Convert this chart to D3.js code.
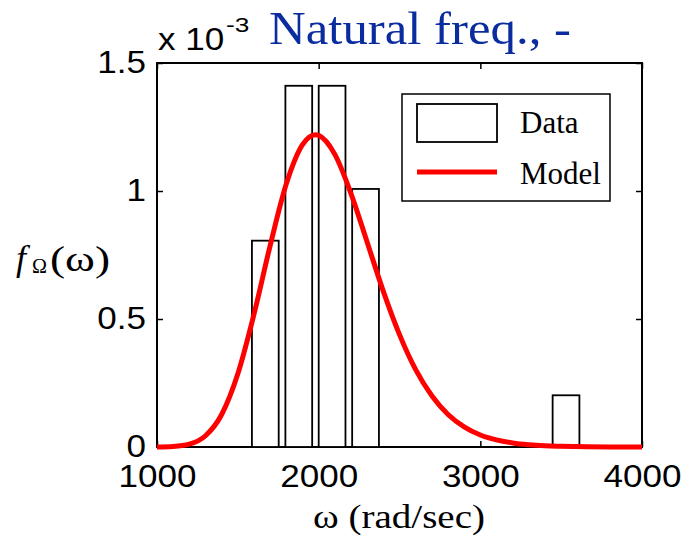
<!DOCTYPE html>
<html>
<head>
<meta charset="utf-8">
<script src="https://cdn.jsdelivr.net/npm/d3@7"></script>
<style>
  html, body { margin: 0; padding: 0; background: #fff; }
  svg { display: block; }
</style>
</head>
<body>
<div id="chart"></div>
<script>
// Histogram of measured natural frequencies (density, x 10^-3)
const binCenters = [1670, 1877, 2083, 2290, 2497, 2703, 2910, 3117, 3323, 3530];
const binDensity = [0.806, 1.411, 1.411, 1.008, 0, 0, 0, 0, 0, 0.202];

// Fitted model curve (x 10^-3)
const modelOmega = [1000, 1100, 1200, 1300, 1400, 1500, 1600, 1700, 1800, 1900, 1980, 2000,
                    2100, 2200, 2300, 2400, 2500, 2600, 2700, 2800, 2900, 3000, 3100, 3200,
                    3300, 3400, 3500, 3600, 3800, 4000];
const modelDensity = [0, 0.002, 0.011, 0.044, 0.127, 0.286, 0.519, 0.787, 1.028, 1.181, 1.220, 1.217,
                      1.143, 0.990, 0.800, 0.608, 0.439, 0.302, 0.200, 0.127, 0.079, 0.047, 0.028, 0.016,
                      0.009, 0.005, 0.003, 0.0015, 0, 0];

const xTicks = [1000, 2000, 3000, 4000];
const yTicks = [0, 0.5, 1, 1.5];

const W = 694, H = 540;
const plot = { left: 157, right: 642, top: 63, bottom: 447 };
const sans = '"Liberation Sans", Arial, Helvetica, sans-serif';
const serif = '"Liberation Serif", "Times New Roman", Times, serif';
const stretch = 1.13; // the source picture is a bit wider than tall

const svg = d3.select('#chart')
    .append('svg')
    .attr('width', W)
    .attr('height', H);

const x = d3.scaleLinear().domain([1000, 4000]).range([plot.left, plot.right]);
const y = d3.scaleLinear().domain([0, 1.5]).range([plot.bottom, plot.top]);

// widen a text horizontally without changing its height
function widen(sel, k) {
    sel.each(function() {
        const w = this.getComputedTextLength();
        d3.select(this)
            .attr('textLength', w * k)
            .attr('lengthAdjust', 'spacingAndGlyphs');
    });
}

// Axes box
svg.append('rect')
    .attr('x', plot.left)
    .attr('y', plot.top)
    .attr('width', plot.right - plot.left)
    .attr('height', plot.bottom - plot.top)
    .attr('fill', 'none')
    .attr('stroke', '#000')
    .attr('stroke-width', 2);

// Tick marks on all four sides, labels bottom and left
function styleAxis(g, showLabels) {
    g.select('.domain').remove();
    g.selectAll('line').attr('stroke', '#000').attr('stroke-width', 1.5);
    if (!showLabels) {
        g.selectAll('text').remove();
        return;
    }
    g.selectAll('text')
        .style('font-family', sans)
        .style('font-size', '31px')
        .attr('fill', '#000')
        .call(widen, stretch);
}

svg.append('g')
    .attr('transform', `translate(0,${plot.bottom})`)
    .call(d3.axisBottom(x).tickValues(xTicks).tickSize(-6).tickPadding(18).tickFormat(d3.format('d')))
    .call(g => styleAxis(g, true));

svg.append('g')
    .attr('transform', `translate(0,${plot.top})`)
    .call(d3.axisTop(x).tickValues(xTicks).tickSize(-6))
    .call(g => styleAxis(g, false));

svg.append('g')
    .attr('transform', `translate(${plot.left},0)`)
    .call(d3.axisLeft(y).tickValues(yTicks).tickSize(-6).tickPadding(11).tickFormat(d => d))
    .call(g => styleAxis(g, true));

svg.append('g')
    .attr('transform', `translate(${plot.right},0)`)
    .call(d3.axisRight(y).tickValues(yTicks).tickSize(-6))
    .call(g => styleAxis(g, false));

// Histogram bars
const binWidth = binCenters[1] - binCenters[0];
const bars = binCenters.map((c, i) => ({ c: c, v: binDensity[i] })).filter(d => d.v > 0);

svg.append('g')
    .selectAll('rect')
    .data(bars)
    .enter()
    .append('rect')
    .attr('x', d => x(d.c - 0.4 * binWidth))
    .attr('width', d => x(d.c + 0.4 * binWidth) - x(d.c - 0.4 * binWidth))
    .attr('y', d => y(d.v))
    .attr('height', d => y(0) - y(d.v))
    .attr('fill', '#fff')
    .attr('stroke', '#000')
    .attr('stroke-width', 1.8);

// Model curve
const model = modelOmega.map((w, i) => ({ w: w, f: modelDensity[i] }));
const line = d3.line()
    .x(d => x(d.w))
    .y(d => y(d.f))
    .curve(d3.curveMonotoneX);

svg.append('path')
    .datum(model)
    .attr('fill', 'none')
    .attr('stroke', '#ff0000')
    .attr('stroke-width', 5)
    .attr('d', line);

// Legend
const legend = svg.append('g');
legend.append('rect')
    .attr('x', 402).attr('y', 94)
    .attr('width', 208).attr('height', 107)
    .attr('fill', '#fff')
    .attr('stroke', '#000')
    .attr('stroke-width', 1.5);
legend.append('rect')
    .attr('x', 417).attr('y', 104)
    .attr('width', 80).attr('height', 38)
    .attr('fill', '#fff')
    .attr('stroke', '#000')
    .attr('stroke-width', 1.8);
legend.append('line')
    .attr('x1', 417).attr('x2', 497)
    .attr('y1', 172).attr('y2', 172)
    .attr('stroke', '#ff0000')
    .attr('stroke-width', 5);
legend.append('text')
    .attr('x', 520).attr('y', 133)
    .style('font-family', serif).style('font-size', '31px')
    .text('Data');
legend.append('text')
    .attr('x', 520).attr('y', 184)
    .style('font-family', serif).style('font-size', '31px')
    .text('Model');

// Exponent label
svg.append('text')
    .attr('x', 158).attr('y', 50)
    .style('font-family', sans).style('font-size', '31px')
    .attr('fill', '#000')
    .text('x 10')
    .call(widen, stretch);
svg.append('text')
    .attr('x', 226).attr('y', 32)
    .style('font-family', sans).style('font-size', '21px')
    .attr('fill', '#000')
    .text('-3')
    .call(widen, 1.25);

// Title
svg.append('text')
    .attr('x', 269).attr('y', 44)
    .attr('textLength', 302)
    .attr('lengthAdjust', 'spacingAndGlyphs')
    .style('font-family', serif).style('font-size', '47px')
    .attr('fill', '#0a2c9e')
    .text('Natural freq., -');

// X label
svg.append('text')
    .attr('x', 313).attr('y', 528)
    .attr('textLength', 172)
    .attr('lengthAdjust', 'spacingAndGlyphs')
    .style('font-family', serif).style('font-size', '34px')
    .text('ω (rad/sec)');

// Y label  f_Ω(ω)
svg.append('text')
    .attr('x', 16).attr('y', 270)
    .style('font-family', serif).style('font-size', '36px').style('font-style', 'italic')
    .text('f');
svg.append('text')
    .attr('x', 32).attr('y', 273)
    .attr('textLength', 15)
    .attr('lengthAdjust', 'spacingAndGlyphs')
    .style('font-family', serif).style('font-size', '20px')
    .text('Ω');
svg.append('text')
    .attr('x', 50).attr('y', 271)
    .attr('textLength', 60)
    .attr('lengthAdjust', 'spacingAndGlyphs')
    .style('font-family', serif).style('font-size', '36px')
    .text('(ω)');
</script>
</body>
</html>
